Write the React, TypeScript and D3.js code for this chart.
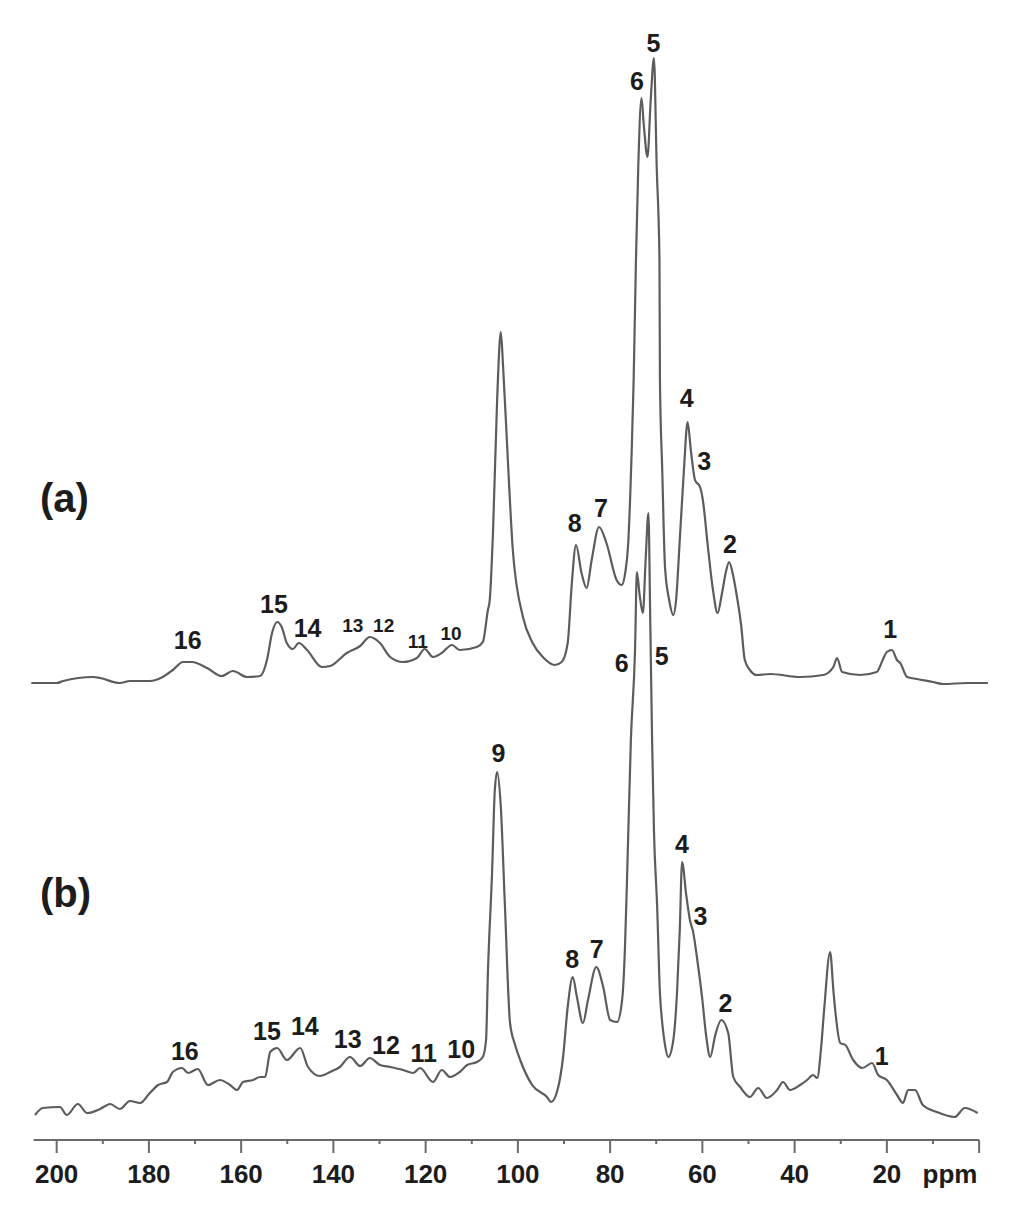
import React from "react";
import * as d3 from "d3";

// chemical shift (ppm) and intensity (a.u.)
const ppmA = [205.5, 200, 198.6, 192.1, 190.6, 186.3, 184.1, 179.8, 177.0, 174.8, 172.6, 170.7, 167.4, 164.2, 161.8, 158.7, 155.9, 154.4, 153.3, 152.2, 151.2, 150.1, 148.8, 147.5, 145.7, 142.5, 140.7, 137.1, 134.2, 132.1, 129.9, 127.7, 124.9, 121.9, 120.2, 118.4, 116.5, 114.3, 112.6, 108.9, 107.6, 106.5, 106.1, 105.4, 104.5, 103.7, 103.2, 102.1, 101.1, 98.9, 96.8, 94.6, 92.0, 90.5, 89.2, 88.3, 87.4, 86.2, 85.1, 84.0, 82.4, 80.8, 78.6, 77.5, 76.7, 76.1, 75.3, 74.9, 74.4, 73.9, 73.2, 72.7, 71.9, 71.2, 70.5, 69.9, 69.3, 69.2, 68.7, 68.1, 67.2, 66.3, 65.7, 64.9, 64.0, 63.2, 62.5, 61.6, 60.5, 59.9, 58.8, 57.7, 56.7, 55.7, 54.9, 54.2, 53.4, 52.6, 51.6, 50.8, 49.7, 48.2, 45.3, 38.8, 33.8, 31.6, 30.8, 29.7, 25.8, 22.2, 20.9, 20.0, 18.9, 17.8, 17.1, 15.6, 13.5, 10.0, 7.8, 2.6, -1.9];
const intA = [1, 1, 3, 7, 6, 1, 3, 3, 7, 14, 22, 22, 16, 8, 13, 7, 8, 24, 51, 62, 57, 41, 35, 41, 34, 17, 18, 31, 38, 47, 41, 27, 22, 26, 35, 27, 31, 39, 34, 37, 42, 74, 84, 151, 284, 352, 317, 217, 134, 67, 41, 27, 19, 22, 41, 101, 139, 111, 96, 124, 157, 141, 104, 99, 112, 139, 237, 304, 424, 517, 586, 559, 527, 584, 626, 517, 424, 304, 214, 117, 84, 69, 84, 144, 214, 262, 234, 204, 197, 184, 137, 94, 71, 92, 112, 122, 110, 90, 59, 24, 14, 9, 10, 7, 9, 17, 26, 12, 9, 12, 24, 32, 34, 24, 21, 7, 5, 2, 0, 1, 1];

const ppmB = [204.7, 203.0, 199.3, 197.8, 195.4, 193.4, 190.6, 188.4, 186.3, 184.1, 181.9, 179.8, 178.0, 176.1, 174.8, 172.8, 171.5, 169.4, 167.2, 164.6, 162.4, 160.9, 159.6, 157.4, 155.9, 154.8, 153.7, 152.2, 150.1, 147.2, 145.5, 142.9, 140.7, 138.6, 136.4, 134.2, 132.1, 129.9, 127.7, 124.9, 122.7, 121.2, 118.4, 116.5, 114.7, 112.6, 111.0, 108.9, 107.6, 106.9, 106.5, 105.6, 105.0, 104.5, 103.7, 102.8, 101.7, 100.6, 99.5, 96.9, 93.7, 92.8, 91.3, 90.2, 89.2, 88.1, 87.2, 85.9, 84.8, 83.0, 81.5, 80.0, 78.5, 77.4, 76.8, 76.3, 75.5, 74.6, 74.2, 73.6, 72.9, 72.3, 71.7, 71.3, 70.9, 70.5, 69.8, 69.2, 68.7, 68.1, 67.4, 66.3, 65.5, 64.9, 64.4, 63.5, 62.7, 62.0, 61.1, 60.0, 59.2, 58.3, 57.2, 55.9, 54.4, 53.3, 51.8, 49.7, 47.9, 46.0, 43.8, 42.5, 41.0, 38.8, 37.3, 36.0, 35.1, 34.3, 33.6, 32.3, 31.6, 31.2, 30.1, 29.0, 27.3, 25.3, 23.2, 21.9, 20.0, 17.8, 16.5, 15.4, 13.9, 12.2, 9.2, 5.3, 3.1, 0.3];
const intB = [0, 7, 8, 0, 11, 2, 6, 11, 6, 14, 12, 22, 30, 33, 43, 47, 42, 46, 30, 35, 30, 25, 33, 35, 38, 38, 63, 67, 55, 67, 48, 39, 43, 48, 58, 49, 57, 50, 48, 45, 42, 47, 33, 45, 38, 43, 50, 53, 58, 75, 142, 242, 325, 343, 308, 208, 92, 70, 55, 30, 18, 13, 27, 58, 108, 138, 118, 92, 115, 148, 128, 95, 93, 115, 165, 242, 375, 465, 543, 520, 502, 555, 602, 495, 375, 285, 208, 122, 92, 70, 58, 75, 122, 185, 253, 220, 195, 183, 155, 115, 80, 58, 80, 95, 82, 38, 28, 18, 27, 17, 25, 33, 25, 30, 35, 40, 37, 65, 105, 163, 125, 105, 72, 70, 55, 47, 52, 40, 35, 20, 12, 25, 25, 10, 3, -2, 7, 2];

// peak assignments: [label, ppm, intensity of label baseline]
const labelsA: [string, number, number][] = [
  ["16", 171.6, 35], ["15", 152.9, 71], ["14", 145.6, 47],
  ["8", 87.7, 152], ["7", 82.0, 167], ["6", 74.2, 594], ["5", 70.6, 632],
  ["4", 63.4, 277], ["3", 59.6, 214], ["2", 54.0, 131], ["1", 19.3, 46],
];
const smallLabelsA: [string, number, number][] = [
  ["13", 135.8, 52], ["12", 129.1, 52], ["11", 121.7, 36], ["10", 114.5, 44],
];
const labelsB: [string, number, number][] = [
  ["16", 172.2, 55], ["15", 154.4, 75], ["14", 146.2, 80], ["13", 136.9, 67],
  ["12", 128.6, 61], ["11", 120.4, 53], ["10", 112.3, 57], ["9", 104.2, 353],
  ["8", 88.2, 147], ["7", 82.9, 157], ["6", 77.5, 443], ["5", 68.8, 450],
  ["4", 64.4, 262], ["3", 60.4, 190], ["2", 55.0, 103], ["1", 21.1, 50],
];

const majorTicks = [200, 180, 160, 140, 120, 100, 80, 60, 40, 20];
const minorTicks = [190, 170, 150, 130, 110, 90, 70, 50, 30, 10];
const offsetA = 431;

const W = 1024;
const H = 1216;
const font = "'Liberation Sans', Arial, sans-serif";

export default function App() {
  const x = d3.scaleLinear().domain([205, 0]).range([33.6, 979.1]);
  const y = d3.scaleLinear().domain([0, 1000]).range([1115, 115]);
  const axisY = 1140;

  const line = d3
    .line<[number, number]>()
    .x((d) => x(d[0]))
    .y((d) => y(d[1]))
    .curve(d3.curveMonotoneX);

  const dataA = ppmA.map((p, i) => [p, intA[i] + offsetA] as [number, number]);
  const dataB = ppmB.map((p, i) => [p, intB[i]] as [number, number]);

  const lab = (arr: [string, number, number][], off: number, size: number, key: string) =>
    arr.map(([t, p, h]) => (
      <text key={key + t} x={x(p)} y={y(h + off)} textAnchor="middle" fontSize={size}
        fontWeight="bold" fill="#1c1c1c" fontFamily={font}>{t}</text>
    ));

  return (
    <div style={{ position: "absolute", left: 0, top: 0 }}>
      <svg width={W} height={H} style={{ display: "block", background: "#fff" }}>
        <path d={line(dataA) ?? ""} fill="none" stroke="#5c5c5c" strokeWidth={2.2} />
        <path d={line(dataB) ?? ""} fill="none" stroke="#5c5c5c" strokeWidth={2.2} />

        {lab(labelsA, offsetA, 25, "a")}
        {lab(smallLabelsA, offsetA, 19, "as")}
        {lab(labelsB, 0, 25, "b")}

        <text x={40} y={512} fontSize={40} fontWeight="bold" fill="#1c1c1c" fontFamily={font}>(a)</text>
        <text x={40} y={907} fontSize={40} fontWeight="bold" fill="#1c1c1c" fontFamily={font}>(b)</text>

        <g stroke="#6a6a6a" strokeWidth={2}>
          <line x1={x(205)} x2={x(0)} y1={axisY} y2={axisY} />
          {majorTicks.concat([0]).map((t) => (
            <line key={"M" + t} x1={x(t)} x2={x(t)} y1={axisY} y2={axisY + 13} />
          ))}
          {minorTicks.map((t) => (
            <line key={"m" + t} x1={x(t)} x2={x(t)} y1={axisY} y2={axisY + 4} />
          ))}
        </g>
        {majorTicks.map((t) => (
          <text key={"t" + t} x={x(t)} y={1183} textAnchor="middle" fontSize={26}
            fontWeight="bold" fill="#1c1c1c" fontFamily={font}>{t}</text>
        ))}
        <text x={950} y={1183} textAnchor="middle" fontSize={26} fontWeight="bold"
          fill="#1c1c1c" fontFamily={font}>ppm</text>
      </svg>
    </div>
  );
}
